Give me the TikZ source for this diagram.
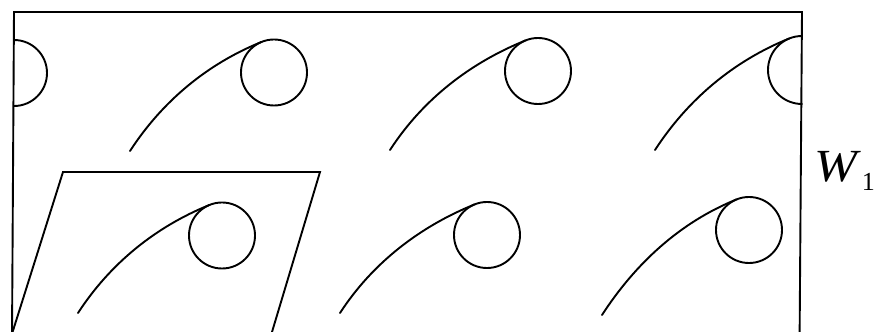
\documentclass[tikz,border=0pt]{standalone}
\usepackage{fontspec}
\setmainfont{Liberation Serif}
\begin{document}
\begin{tikzpicture}[x=1pt,y=1pt,
  line width=1.9pt, line cap=round, line join=miter,
  ring/.style={circle, draw, inner sep=0pt, outer sep=0pt, minimum size=66pt},
  hook/.style={out=57, in=202, looseness=0.88}]
\useasboundingbox (0,0) rectangle (879,332);
% frame
\begin{scope}
\clip (0,0) rectangle (879,332);
\draw (12,-5) -- (14,320) -- (802,320) -- (799.6,-5);
% parallelogram
\draw (11,-5) -- (63,160) -- (320,160) -- (270.5,-5);
\end{scope}
% half circles at the edges
\node[ring, draw=none] (c0) at (14,259) {};
\draw (c0.90) arc (90:-90:33);
\node[ring, draw=none, minimum size=68pt] (c3) at (802,262) {};
\draw (c3.90) arc (90:270:34);
% full circles
\node[ring] (c1) at (274,259.5) {};
\node[ring] (c2) at (538,261) {};
\node[ring] (c4) at (222,96.5) {};
\node[ring] (c5) at (487,97) {};
\node[ring] (c6) at (749,102) {};
% curve starts
\coordinate (s1) at (130,181);
\coordinate (s2) at (390,182);
\coordinate (s3) at (655,182);
\coordinate (s4) at (78,19);
\coordinate (s5) at (340,19);
\coordinate (s6) at (602,17);
\draw (s1) to[hook] (c1.112);
\draw (s2) to[hook] (c2.112);
\draw (s3) to[hook] (c3.112);
\draw (s4) to[hook] (c4.112);
\draw (s5) to[hook] (c5.112);
\draw (s6) to[hook] (c6.112);
% label
\node[anchor=base west, inner sep=0pt] (w) at (814,150)
  {\fontsize{46}{46}\selectfont\scalebox{1.12}[1]{\textit{W}}\raisebox{-9pt}{\fontsize{26}{26}\selectfont 1}};
\end{tikzpicture}
\end{document}
